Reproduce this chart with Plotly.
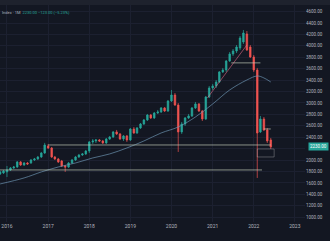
import pandas as pd
import plotly.graph_objects as go

# Monthly candles, Nov 2015 .. Jun 2022
months = pd.date_range("2015-11-01", periods=80, freq="MS")
opens = [1758, 1775, 1793, 1828, 1863, 1880, 1968, 1915, 1950, 1950, 2003, 2020, 2055, 2125,
         2248, 2212, 2055, 2020, 1985, 1898, 1880, 1950, 2003, 2055, 2090, 2108,
         2160, 2318, 2335, 2353, 2335, 2300, 2370, 2405, 2493, 2458, 2370, 2423,
         2353, 2545, 2475, 2563, 2633, 2703, 2790, 2738, 2825, 2843, 2913, 2860,
         3035, 3140, 2965, 2493, 2633, 2738, 2773, 2913, 2983, 2860, 2720, 3105,
         3263, 3298, 3368, 3543, 3578, 3735, 3858, 3910, 3963, 4068, 4208, 3980,
         3805, 3578, 2493, 2720, 2528, 2353]
highs = [1810, 1828, 1898, 1880, 1898, 1985, 1985, 1968, 1968, 2020, 2038, 2073, 2143, 2302,
         2283, 2230, 2073, 2038, 2003, 1915, 1968, 2020, 2073, 2108, 2125, 2178,
         2335, 2370, 2370, 2370, 2353, 2388, 2423, 2510, 2528, 2475, 2440, 2440,
         2563, 2580, 2580, 2650, 2720, 2808, 2808, 2843, 2878, 2930, 2930, 3053,
         3228, 3175, 3000, 2668, 2755, 2808, 2930, 3018, 3000, 2878, 3123, 3298,
         3333, 3403, 3560, 3613, 3753, 3893, 3945, 4015, 4173, 4278, 4260, 4015,
         3840, 3613, 2773, 2755, 2563, 2388]
lows = [1740, 1758, 1705, 1810, 1845, 1863, 1898, 1898, 1915, 1933, 1985, 2003, 2038, 2108,
        2195, 2038, 2003, 1950, 1880, 1793, 1863, 1933, 1985, 2038, 2073, 2090,
        2125, 2283, 2300, 2318, 2283, 2283, 2353, 2388, 2440, 2353, 2335, 2318,
        2335, 2458, 2458, 2545, 2615, 2685, 2720, 2720, 2808, 2825, 2843, 2843,
        3018, 2948, 2143, 2458, 2598, 2720, 2755, 2895, 2843, 2685, 2703, 3088,
        3228, 3263, 3350, 3525, 3543, 3718, 3823, 3875, 3928, 4033, 3910, 3788,
        3543, 1688, 2475, 2510, 2300, 2195]
closes = [1793, 1810, 1828, 1863, 1880, 1968, 1915, 1950, 1933, 2003, 2020, 2055, 2125, 2265,
          2212, 2055, 2020, 1968, 1898, 1880, 1950, 2003, 2055, 2090, 2108, 2160,
          2318, 2335, 2353, 2335, 2300, 2370, 2405, 2493, 2458, 2370, 2423, 2353,
          2545, 2475, 2563, 2633, 2703, 2790, 2738, 2825, 2843, 2913, 2860, 3035,
          3140, 2965, 2493, 2633, 2738, 2773, 2913, 2983, 2860, 2720, 3105, 3263,
          3298, 3368, 3543, 3578, 3735, 3858, 3910, 3980, 4138, 4225, 3928, 3805,
          3578, 2475, 2720, 2528, 2335, 2230]

# Moving average (sparse read-off points)
ma_dates = ["2015-11-01", "2016-06-01", "2016-11-01", "2017-04-01", "2017-09-01", "2018-02-01",
            "2018-07-01", "2018-12-01", "2019-05-01", "2019-10-01", "2020-03-01", "2020-08-01",
            "2021-01-01", "2021-06-01", "2021-11-01", "2022-02-01", "2022-04-01", "2022-06-01"]
ma_vals = [1583, 1688, 1793, 1880, 1950, 2038, 2108, 2213, 2335, 2475, 2580, 2755,
           2983, 3228, 3403, 3473, 3438, 3368]

# Drawn levels: (start, end, price)
levels = [("2017-01-01", "2022-06-01", 2265),
          ("2015-10-01", "2022-03-15", 1828),
          ("2021-06-15", "2022-03-01", 3702),
          ("2022-04-01", "2022-06-01", 2545)]
box = ("2022-02-01", "2022-07-01", 2055, 2195)
trend = (["2020-11-15", "2021-11-01"], [3087, 4015])

y_ticks = [1000, 1200, 1400, 1600, 1800, 2000, 2200, 2400, 2600, 2800, 3000, 3200,
           3400, 3600, 3800, 4000, 4200, 4400, 4600]
x_ticks = ["2016-01-01", "2017-01-01", "2018-01-01", "2019-01-01", "2020-01-01",
           "2021-01-01", "2022-01-01", "2023-01-01"]
x_labels = ["2016", "2017", "2018", "2019", "2020", "2021", "2022", "2023"]
last_price = closes[-1]

BG = "#131722"
UP = "#26a69a"
DN = "#ef5350"
GRID = "#1c2030"
TXT = "#b2b5be"

fig = go.Figure()
fig.add_trace(go.Scatter(x=ma_dates, y=ma_vals, mode="lines", line=dict(color="rgba(110,150,180,0.85)", width=0.8, shape="spline"),
                         hoverinfo="skip", showlegend=False))
fig.add_trace(go.Candlestick(x=months, open=opens, high=highs, low=lows, close=closes,
                             increasing=dict(line=dict(color=UP, width=0.7), fillcolor=UP),
                             decreasing=dict(line=dict(color=DN, width=0.7), fillcolor=DN),
                             whiskerwidth=0, showlegend=False))
fig.add_trace(go.Scatter(x=trend[0], y=trend[1], mode="lines", line=dict(color="rgba(240,110,140,0.8)", width=0.7),
                         hoverinfo="skip", showlegend=False))

shapes = []
for x0, x1, p in levels:
    shapes.append(dict(type="line", xref="x", yref="y", x0=x0, x1=x1, y0=p, y1=p,
                       line=dict(color="rgba(200,210,190,0.65)", width=1)))
shapes.append(dict(type="rect", xref="x", yref="y", x0=box[0], x1=box[1], y0=box[2], y1=box[3],
                   line=dict(color="rgba(220,220,220,0.5)", width=0.6)))
# top strip
shapes.append(dict(type="rect", xref="paper", yref="paper", x0=-0.01, x1=1.2, y0=1.0, y1=1.03,
                   fillcolor="#1e222d", line=dict(width=0), layer="below"))

# hide the tick label that sits under the last-price tag
y_text = ["" if abs(v - last_price) < 100 else f"{v:.2f}" for v in y_ticks]

fig.update_layout(
    width=330, height=241,
    margin=dict(l=0, r=25, t=5, b=19),
    paper_bgcolor=BG, plot_bgcolor=BG,
    font=dict(family="Roboto, Liberation Sans, sans-serif", size=5, color=TXT),
    shapes=shapes,
    xaxis=dict(range=["2015-10-31", "2023-04-01"], rangeslider=dict(visible=False),
               tickvals=x_ticks, ticktext=x_labels, showgrid=True, gridcolor=GRID, gridwidth=1,
               zeroline=False, showline=False, ticks="", tickfont=dict(size=5, color=TXT)),
    yaxis=dict(range=[917, 4715], side="right", tickvals=y_ticks,
               ticktext=y_text, showgrid=True, gridcolor=GRID, gridwidth=1,
               zeroline=False, showline=False, ticks="", tickfont=dict(size=4.5, color=TXT)),
    annotations=[
        dict(xref="paper", yref="y", x=1, y=last_price, xanchor="left", yanchor="middle", xshift=3,
             text=f"{last_price:.2f}", showarrow=False, bgcolor=UP, font=dict(size=4.5, color="#ffffff"),
             borderpad=1),
        dict(xref="paper", yref="paper", x=0.0, y=0.985, xanchor="left", yanchor="top",
             text="Index · 1M  <span style='color:#26a69a'>2230.00 −123.00 (−5.23%)</span>",
             showarrow=False, font=dict(size=4, color=TXT)),
    ],
)
fig.write_html("out.html")
